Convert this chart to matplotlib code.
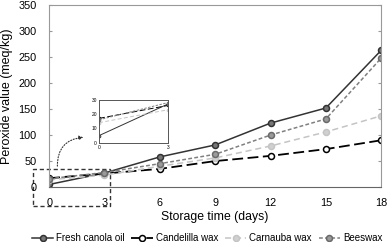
import numpy as np
import matplotlib.pyplot as plt
from matplotlib.patches import Rectangle, FancyArrowPatch

plt.rcParams['font.family'] = ['Liberation Sans', 'DejaVu Sans']

days = [0, 3, 6, 9, 12, 15, 18]
canola = [5, 27, 58, 81, 123, 152, 263]
candelilla = [17, 26, 35, 50, 60, 73, 90]
carnauba = [14, 23, 40, 56, 79, 106, 137]
beeswax = [16, 28, 45, 63, 100, 131, 248]
names = ['Fresh canola oil', 'Candelilla wax', 'Carnauba wax', 'Beeswax']

styles = [
    dict(color='#333333', ls='-', lw=1.1, marker='o', mfc='#777777', mec='#333333'),
    dict(color='black', ls=(0, (6, 2.5)), lw=1.3, marker='o', mfc='white', mec='black'),
    dict(color='#c4c4c4', ls=(0, (4, 2.5)), lw=1.1, marker='o', mfc='#d0d0d0', mec='#c4c4c4'),
    dict(color='#808080', ls=(0, (2.5, 1.5)), lw=1.1, marker='o', mfc='#9a9a9a', mec='#6a6a6a'),
]
series = [canola, candelilla, carnauba, beeswax]

fig = plt.figure(figsize=(3.87, 2.42), dpi=100)
ax = fig.add_axes([0.127, 0.227, 0.858, 0.752])

for y, st, name in zip(series, styles, names):
    ax.plot(days, y, ms=4.3, mew=1.1, label=name, **st)

ax.set_xlim(0, 18)
ax.set_ylim(0, 350)
ax.set_xticks(days)
ax.set_yticks(np.arange(0, 351, 50))
for s in ax.spines.values():
    s.set_color('#999999')
    s.set_linewidth(0.8)
ax.spines['bottom'].set_color('#666666')
ax.tick_params(axis='both', labelsize=7.8, length=0)
ax.tick_params(axis='x', pad=8)
ax.tick_params(axis='y', pad=9)
ax.tick_params(axis='y', right=True, direction='in', length=2, color='#999999')
ax.set_xlabel('Storage time (days)', fontsize=8.8, labelpad=2)
ax.set_ylabel('Peroxide value (meq/kg)', fontsize=9, labelpad=4)

# dashed zoom box around the first interval
box = Rectangle((-0.9, -37), 4.2, 71, fill=False, ls=(0, (3, 2)), lw=1.0,
                ec='#333333', clip_on=False)
ax.add_patch(box)
arrow = FancyArrowPatch((0.45, 35), (2.0, 96), connectionstyle='arc3,rad=-0.5',
                        arrowstyle='-|>', mutation_scale=6, ls=(0, (1, 1.5)),
                        lw=0.8, color='#333333', clip_on=False)
ax.add_patch(arrow)

# inset of days 0-3
ins = fig.add_axes([0.256, 0.41, 0.178, 0.178])
for y, st in zip(series, styles):
    ins.plot(days[:2], y[:2], ms=2, mew=0.6, **dict(st, lw=0.7))
ins.set_xlim(0, 3)
ins.set_ylim(0, 30)
ins.set_xticks([0, 3])
ins.set_yticks([0, 10, 20, 30])
ins.tick_params(labelsize=3.5, length=0, pad=1.5)
for s in ins.spines.values():
    s.set_color('#555555')
    s.set_linewidth(0.7)

fig.legend(loc='lower center', bbox_to_anchor=(0.535, -0.03), ncol=4, frameon=False,
           fontsize=7, handlelength=2.2, handletextpad=0.3, columnspacing=0.7,
           borderaxespad=0.2)

fig.savefig('out.png', dpi=100)
